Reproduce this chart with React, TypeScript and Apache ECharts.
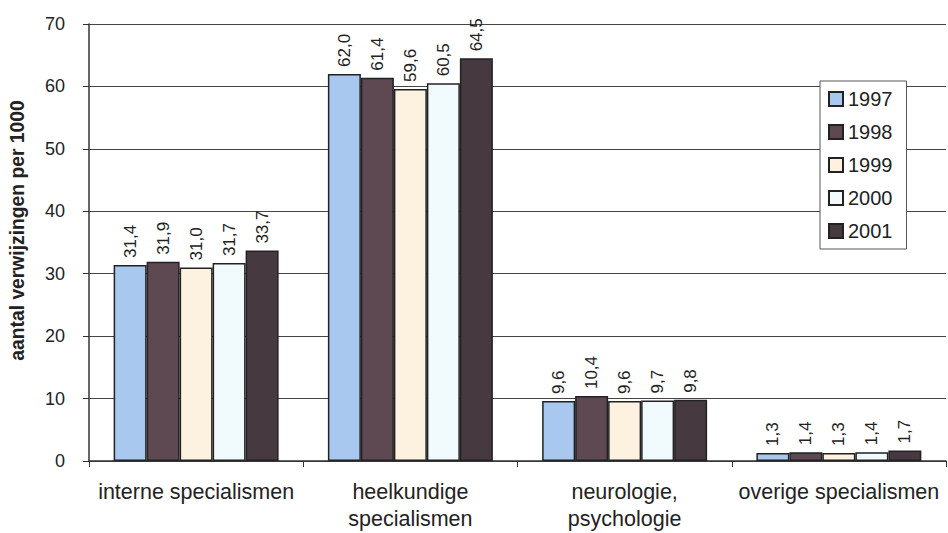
import React, { useEffect, useRef } from "react";
import * as echarts from "echarts";

const categories = ["interne specialismen", "heelkundige\nspecialismen", "neurologie,\npsychologie", "overige specialismen"];
const years = ["1997", "1998", "1999", "2000", "2001"];
const v1997 = [31.4, 62.0, 9.6, 1.3];
const v1998 = [31.9, 61.4, 10.4, 1.4];
const v1999 = [31.0, 59.6, 9.6, 1.3];
const v2000 = [31.7, 60.5, 9.7, 1.4];
const v2001 = [33.7, 64.5, 9.8, 1.7];
const yTicks = [0, 10, 20, 30, 40, 50, 60, 70];

const colors = ["#a9c8f0", "#5e4852", "#fdf1e0", "#f1fafd", "#463a40"];

export default function App() {
  const ref = useRef<HTMLDivElement>(null);
  useEffect(() => {
    const chart = echarts.init(ref.current!, null, { renderer: "svg" });
    const seriesData = [v1997, v1998, v1999, v2000, v2001];
    chart.setOption({
      animation: false,
      backgroundColor: "#ffffff",
      textStyle: { fontFamily: "Liberation Sans, Arial, sans-serif" },
      grid: { left: 86, right: 2, top: 24, bottom: 72, containLabel: false },
      legend: {
        orient: "vertical",
        left: 820,
        top: 81,
        data: years,
        itemWidth: 14,
        itemHeight: 14,
        itemGap: 13,
        padding: [8, 14, 8, 8],
        borderColor: "#555",
        borderWidth: 1,
        backgroundColor: "#fff",
        textStyle: { fontSize: 20, color: "#222", padding: [0, 0, 0, 0] },
        icon: "rect",
      },
      xAxis: {
        type: "category",
        data: categories,
        axisLine: { lineStyle: { color: "#333", width: 1.5 } },
        axisTick: { show: true, length: 6, lineStyle: { color: "#333" } },
        axisLabel: { fontSize: 21.5, color: "#222", margin: 17, lineHeight: 27, interval: 0 },
      },
      yAxis: {
        type: "value",
        min: 0,
        max: 70,
        interval: 10,
        name: "aantal verwijzingen per 1000",
        nameLocation: "middle",
        nameGap: 62,
        nameTextStyle: { fontSize: 19.3, fontWeight: "bold", color: "#222", padding: [0, 0, 0, 24] },
        axisLine: { show: true, lineStyle: { color: "#333", width: 1.5 } },
        axisTick: { show: true, length: 6, lineStyle: { color: "#333" } },
        axisLabel: {
          fontSize: 18,
          color: "#222",
          margin: 24,
          formatter: (v: number) => (yTicks.includes(v) ? String(v) : ""),
        },
        splitLine: { show: true, lineStyle: { color: "#444", width: 1 } },
      },
      series: years.map((y, i) => ({
        name: y,
        type: "bar",
        data: seriesData[i],
        barGap: "0%",
        barCategoryGap: "23%",
        itemStyle: { color: colors[i], borderColor: "#222", borderWidth: 1.5 },
        label: {
          show: true,
          position: "top",
          rotate: 90,
          align: "left",
          verticalAlign: "middle",
          distance: 7,
          fontSize: 17,
          color: "#222",
          formatter: (p: any) => p.value.toFixed(1).replace(".", ","),
        },
      })),
    });
    return () => chart.dispose();
  }, []);
  return <div ref={ref} style={{ width: 948, height: 533, position: "absolute", left: 0, top: 0 }} />;
}
